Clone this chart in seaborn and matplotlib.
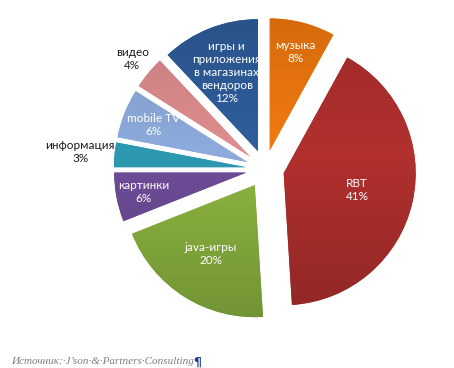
import numpy as np
import matplotlib
matplotlib.use("Agg")
import matplotlib.pyplot as plt
import matplotlib.colors as mcolors
import seaborn as sns

categories = ["музыка", "RBT", "java-игры", "картинки", "информация",
              "mobile TV", "видео", "игры и\nприложения\nв магазинах\nвендоров"]
values = [8, 41, 20, 6, 3, 6, 4, 12]
colors = ["#E8740E", "#A92E2C", "#87AE3E", "#6A4A92", "#2B93AA",
          "#86A3D2", "#D68788", "#2D5A96"]

explode = [0.145] * 8
label_r = [0.77, 0.57, 0.62, 0.79, 1.26, 0.76, 1.16, 0.64]
label_col = ["white", "white", "white", "white", "#1A1A1A", "white", "#1A1A1A", "white"]

sns.set_theme(style="white")
plt.rcParams['font.family'] = ['Lato', 'DejaVu Sans']

W, H = 454, 368
fig = plt.figure(figsize=(W / 100, H / 100), dpi=100)
ax = fig.add_axes([0, 0, 1, 1])
scale = 132.0
cx, cy = 265.0, 169.0
xmin, xmax = -cx / scale, (W - cx) / scale
ymin, ymax = -(H - cy) / scale, cy / scale

wedges, _ = ax.pie(values, colors=colors, startangle=90, counterclock=False,
                   explode=explode, radius=1.0, center=(0, 0),
                   wedgeprops=dict(linewidth=0))

# mild vertical shading (pixel rows -> brightness factor)
rows = np.arange(H)
f = np.interp(rows, [18, 150, 318], [0.92, 1.05, 0.85])
for w, col in zip(wedges, colors):
    base = np.array(mcolors.to_rgb(col))
    img = np.clip(base[None, :] * f[:, None], 0, 1)
    img = np.repeat(img[:, None, :], 4, axis=1)
    im = ax.imshow(img, extent=(xmin, xmax, ymin, ymax), aspect="auto",
                   interpolation="bilinear", zorder=w.get_zorder() + 0.1)
    im.set_clip_path(w)

for w, cat, v, r, tc in zip(wedges, categories, values, label_r, label_col):
    ang = np.deg2rad((w.theta1 + w.theta2) / 2)
    x0, y0 = w.center
    ax.text(x0 + r * np.cos(ang), y0 + r * np.sin(ang), f"{cat}\n{v}%",
            ha="center", va="center", color=tc, fontsize=8.5, linespacing=1.22,
            zorder=5)

ax.set_xlim(xmin, xmax)
ax.set_ylim(ymin, ymax)
ax.set_aspect("auto")
ax.axis("off")

t = fig.text(11 / W, 1 - 362 / H, "Источник:·J’son·&·Partners·Consulting",
             family="Liberation Serif", style="italic", fontsize=8,
             color="#7F7F7F", ha="left", va="center")
fig.canvas.draw()
bb = t.get_window_extent()
fig.text((bb.x1 - 1) / W, 1 - 362 / H, "¶", family="DejaVu Sans",
         fontsize=9, color="#1F3F8F", ha="left", va="center", fontweight="bold")

fig.savefig("out.png", dpi=100)
